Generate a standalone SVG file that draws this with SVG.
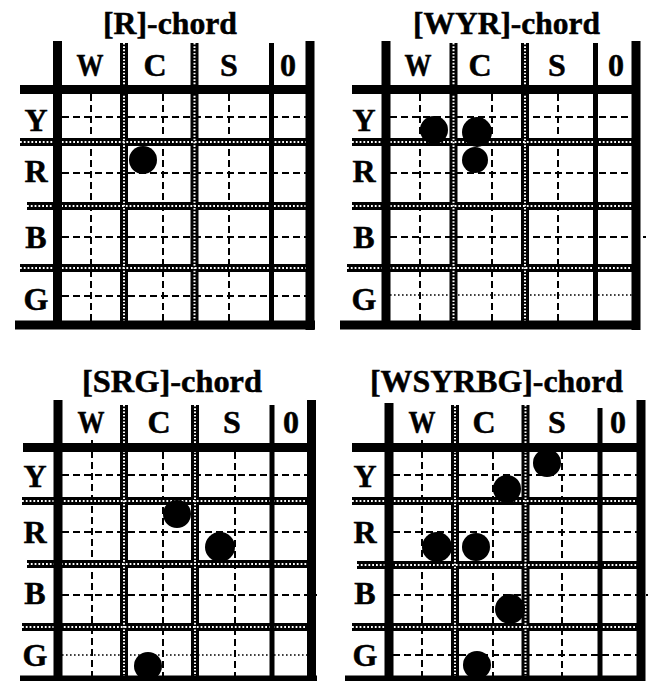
<svg xmlns="http://www.w3.org/2000/svg" width="650" height="681" viewBox="0 0 650 681">
<style>
text{font-family:"Liberation Serif","Times New Roman",serif;font-weight:bold;fill:#000;stroke:#000;stroke-width:0.5}
.title{font-size:32px;text-anchor:middle}
.lab{font-size:32px;text-anchor:middle}
.thick{stroke:#000;stroke-width:9;fill:none}
.mid{stroke:#000;stroke-width:5;fill:none}
.pat{stroke:#000;stroke-width:8;fill:none}
.patv{stroke:#fff;stroke-width:2;stroke-dasharray:1.6 1.7;fill:none}
.path{stroke:#fff;stroke-width:2.2;stroke-dasharray:1.8 2;fill:none}
.dash{stroke:#000;stroke-width:2;stroke-dasharray:7 4;fill:none}
.dot{stroke:#000;stroke-width:1.6;stroke-dasharray:1.6 2.4;fill:none}
.note{fill:#000}
</style>
<rect width="650" height="681" fill="#fff"/>

<g id="panel-R">
<text class="title" x="170" y="34" textLength="134" lengthAdjust="spacingAndGlyphs">[R]-chord</text>
<g><text class="lab" x="90" y="76" textLength="27" lengthAdjust="spacingAndGlyphs">W</text><text class="lab" x="155" y="76">C</text><text class="lab" x="229" y="76">S</text><text class="lab" x="288" y="76">0</text></g>
<g><text class="lab" x="36" y="131">Y</text><text class="lab" x="36" y="182">R</text><text class="lab" x="36" y="248">B</text><text class="lab" x="36" y="310">G</text></g>
<path class="dash" d="M62 117H306M62 173H306M62 237H306M62 296H306M91 94V321M163 94V321M229 94V321"/>
<path class="pat" d="M20 142H307M27 206H307M20 268H307M124 43V325M194.5 43V325"/>
<path class="path" d="M20 142H307M27 206H307M20 268H307"/>
<path class="patv" d="M124 43V325M194.5 43V325"/>
<path class="mid" d="M271.5 43V325"/>
<path class="thick" d="M57.5 41V329M20 89.5H310M310 41V330M15 325H315"/>
<circle class="note" cx="143" cy="160" r="14"/>
</g>

<g id="panel-WYR">
<text class="title" x="506.5" y="34" textLength="187" lengthAdjust="spacingAndGlyphs">[WYR]-chord</text>
<g><text class="lab" x="418" y="76" textLength="27" lengthAdjust="spacingAndGlyphs">W</text><text class="lab" x="480" y="76">C</text><text class="lab" x="557" y="76">S</text><text class="lab" x="616" y="76">0</text></g>
<g><text class="lab" x="364" y="131">Y</text><text class="lab" x="364" y="182">R</text><text class="lab" x="364" y="248">B</text><text class="lab" x="364" y="310">G</text></g>
<path class="dash" d="M390 117H632M390 173H632M390 237H646M420 94V321M492 94V321M558 94V321"/>
<path class="dot" d="M390 295H632"/>
<path class="pat" d="M352 142H633M352 206H633M347 268H633M453.5 43V325M525 43V325"/>
<path class="path" d="M352 142H633M352 206H633M347 268H633"/>
<path class="patv" d="M453.5 43V325M525 43V325"/>
<path class="mid" d="M595.5 43V325"/>
<path class="thick" d="M386 41V329M352 89.5H636M636 41V330M340 325H640"/>
<circle class="note" cx="434" cy="130" r="14"/>
<circle class="note" cx="477" cy="132" r="15"/>
<circle class="note" cx="475" cy="160" r="13"/>
</g>

<g id="panel-SRG">
<text class="title" x="172" y="392" textLength="180" lengthAdjust="spacingAndGlyphs">[SRG]-chord</text>
<g><text class="lab" x="91" y="433" textLength="27" lengthAdjust="spacingAndGlyphs">W</text><text class="lab" x="159" y="433">C</text><text class="lab" x="232" y="433">S</text><text class="lab" x="291" y="433">0</text></g>
<g><text class="lab" x="35" y="487">Y</text><text class="lab" x="35" y="543">R</text><text class="lab" x="35" y="604">B</text><text class="lab" x="35" y="666">G</text></g>
<path class="dash" d="M62 475H307M62 532H307M62 595H317M92 440V681M163 452V681M235 452V681"/>
<path class="dot" d="M62 655H307"/>
<path class="pat" d="M22 501H308M27 564H308M22 627H308M124 405V681M195 405V681"/>
<path class="path" d="M22 501H308M27 564H308M22 627H308"/>
<path class="patv" d="M124 405V681M195 405V681"/>
<path class="mid" d="M272 405V681"/>
<path class="thick" d="M58 400V681M23 447.5H311M311.5 400V681M20 680H317"/>
<circle class="note" cx="177" cy="514" r="14"/>
<circle class="note" cx="220" cy="547" r="15"/>
<circle class="note" cx="148" cy="666" r="14"/>
</g>

<g id="panel-WSYRBG">
<text class="title" x="496.5" y="392" textLength="253" lengthAdjust="spacingAndGlyphs">[WSYRBG]-chord</text>
<g><text class="lab" x="422" y="433" textLength="27" lengthAdjust="spacingAndGlyphs">W</text><text class="lab" x="484" y="433">C</text><text class="lab" x="557" y="433">S</text><text class="lab" x="618" y="433">0</text></g>
<g><text class="lab" x="365" y="487">Y</text><text class="lab" x="365" y="543">R</text><text class="lab" x="365" y="604">B</text><text class="lab" x="365" y="666">G</text></g>
<path class="dash" d="M393 475H637M393 532H637M393 595H648M393 655H637M422 440V681M493 452V681M562 452V681"/>
<path class="pat" d="M352 501H637M357 565H637M352 627H637M455 405V681M525.5 405V681"/>
<path class="path" d="M352 501H637M357 565H637M352 627H637"/>
<path class="patv" d="M455 405V681M525.5 405V681"/>
<path class="mid" d="M600 408V681"/>
<path class="thick" d="M389 403V681M352 447.5H641M641 400V681M345 680H645"/>
<circle class="note" cx="547" cy="463" r="14"/>
<circle class="note" cx="507" cy="489" r="14"/>
<circle class="note" cx="437" cy="547" r="15"/>
<circle class="note" cx="476" cy="547" r="14"/>
<circle class="note" cx="510" cy="609" r="15"/>
<circle class="note" cx="477" cy="665" r="14"/>
</g>
</svg>
